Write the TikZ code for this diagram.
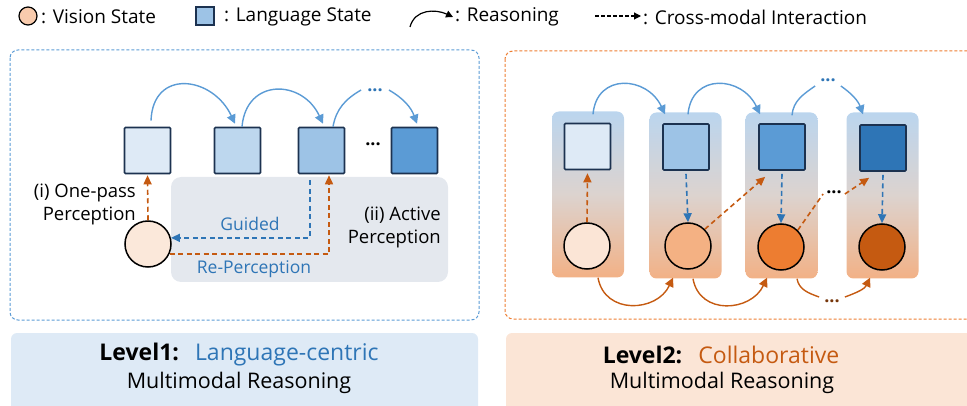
\documentclass[tikz,border=0pt]{standalone}
\usepackage{fontspec}
\setmainfont{Open Sans}
\usetikzlibrary{arrows.meta,calc}
\definecolor{navy}{RGB}{28,50,80}
\definecolor{arcblue}{HTML}{5B9BD5}
\definecolor{dblue}{HTML}{2E75B6}
\definecolor{dorange}{HTML}{C55A11}
\definecolor{panelorange}{HTML}{ED7D31}
\definecolor{grayfill}{HTML}{E4E8EE}
\definecolor{lb1}{HTML}{DEEAF6}
\definecolor{lb2}{HTML}{BDD7EE}
\definecolor{lb3}{HTML}{9DC3E6}
\definecolor{lb4}{HTML}{5B9BD5}
\definecolor{lb5}{HTML}{2E75B6}
\definecolor{lo1}{HTML}{FBE5D6}
\definecolor{lo2}{HTML}{F4B183}
\definecolor{lo3}{HTML}{ED7D31}
\definecolor{lo4}{HTML}{C55A11}
\definecolor{legcirc}{HTML}{F8CBAD}
\definecolor{colbot}{HTML}{F2B186}
\definecolor{coltop}{HTML}{BBD5EE}
\begin{document}
\begin{tikzpicture}[x=1pt,y=1pt,
  lstate/.style={draw=navy,line width=1.6pt,minimum size=46pt,inner sep=0pt,rounded corners=1pt},
  vstate/.style={circle,draw=black,line width=1.5pt,minimum size=46pt,inner sep=0pt},
  reason/.style={arcblue,line width=1.4pt,-{Triangle[length=9pt,width=9pt]}},
  oreason/.style={dorange,line width=1.4pt,-{Triangle[length=9pt,width=9pt]}},
  bdash/.style={dblue,line width=1.6pt,dash pattern=on 5pt off 3.5pt,-{Triangle[length=9pt,width=8pt]}},
  odash/.style={dorange,line width=1.6pt,dash pattern=on 5pt off 3.5pt,-{Triangle[length=9pt,width=8pt]}},
  column/.style={rounded corners=7pt,minimum width=72pt,minimum height=166pt,inner sep=0pt,top color=coltop,bottom color=colbot,middle color=coltop!50!colbot!80!gray!60},
  legtxt/.style={anchor=west,inner sep=0pt,font=\fontsize{19}{22}\selectfont},
  anno/.style={inner sep=0pt,align=right,font=\fontsize{18.5}{23}\selectfont},
  dots/.style={inner sep=1pt,font=\fontsize{18}{20}\selectfont\bfseries},
]
\useasboundingbox (0,0) rectangle (967,-406);

% ---------- legend ----------
\node[circle,draw=black,line width=1.2pt,fill=legcirc,minimum size=18pt,inner sep=0pt] (lc) at (28,-16) {};
\node[legtxt] (lt1) at (41,-17) {: Vision State};
\node[draw=navy,line width=1.2pt,fill=lb3,minimum size=18pt,inner sep=0pt] (ls) at (205,-16) {};
\node[legtxt] (lt2) at (224,-17) {: Language State};
\coordinate (la) at (410,-27);
\coordinate (lb) at (453,-17);
\draw[black,line width=1.2pt,-{Triangle[length=7pt,width=7pt]}] (la) to[out=75,in=155,looseness=1.1] (lb);
\node[legtxt] (lt3) at (455,-17) {: Reasoning};
\coordinate (da) at (595,-16);
\coordinate (db) at (641,-16);
\draw[black,line width=1.1pt,dash pattern=on 3.5pt off 2.5pt,-{Triangle[length=7pt,width=7pt]}] (da) -- (db);
\node[legtxt] (lt4) at (643,-17) {: Cross-modal Interaction};

% ---------- left panel ----------
\draw[arcblue,line width=1pt,dash pattern=on 3pt off 2pt,rounded corners=8pt] (10,-50) rectangle (479,-320);
\fill[grayfill,rounded corners=10pt] (171,-177) rectangle (448,-282);

\node[lstate,fill=lb1] (s1) at (147.5,-150.5) {};
\node[lstate,fill=lb2] (s2) at (237.5,-150.5) {};
\node[lstate,fill=lb3] (s3) at (321.5,-150.5) {};
\node[lstate,fill=lb4] (s4) at (414.5,-150.5) {};
\node[dots,black] (dl) at (373,-144) {...};
\node[vstate,fill=lo1!90!white] (c0) at (148,-244) {};

\draw[reason] ([xshift=3.5,yshift=6]s1.north) to[out=88,in=115,looseness=1.6] ([xshift=-2.5,yshift=3]s2.north);
\draw[reason] ([xshift=4.5]s2.north) to[out=85,in=115,looseness=1.55] ([xshift=1.5,yshift=3]s3.north);
\node[dots,dblue] (dt1) at (375,-90) {...};
\draw[arcblue,line width=1.4pt] ([xshift=11.5]s3.north) to[out=80,in=-150] ([xshift=-5]dt1.west);
\draw[reason] ([xshift=5]dt1.east) to[out=-30,in=110] ([xshift=2.5,yshift=3]s4.north);

\draw[odash] (c0.north) -- ([yshift=-1]s1.south);
\draw[bdash] ([xshift=-11.5,yshift=-6]s3.south) |- (c0.15);
\draw[odash] (c0.-25) -| ([xshift=7.5,yshift=-1]s3.south);

\node[anno,anchor=east] (t1) at (136,-204) {(i) One-pass\\Perception};
\node[anno,anchor=east] (t2) at (441,-227) {(ii) Active\\Perception};
\node[inner sep=0pt,dblue,font=\fontsize{17.5}{20}\selectfont] (tg) at (250,-224) {Guided};
\node[inner sep=0pt,dblue,font=\fontsize{17.5}{20}\selectfont] (tr) at (254,-269) {Re-Perception};

% ---------- right panel ----------
\draw[panelorange,line width=1pt,dash pattern=on 3pt off 2pt,rounded corners=8pt] (505,-51) rectangle (985,-319);

\node[column] (k1) at (588,-194.5) {};
\node[column] (k2) at (685.5,-195.5) {};
\node[column] (k3) at (781.5,-195.5) {};
\node[column] (k4) at (882.5,-195.5) {};

\node[lstate,fill=lb1] (q1) at (587.5,-146.5) {};
\node[lstate,fill=lb3] (q2) at (686,-147) {};
\node[lstate,fill=lb4] (q3) at (782,-147) {};
\node[lstate,fill=lb5] (q4) at (883,-148) {};

\node[vstate,fill=lo1] (v1) at (587,-246) {};
\node[vstate,fill=lo2] (v2) at (688,-246) {};
\node[vstate,fill=lo3] (v3) at (781,-247) {};
\node[vstate,fill=lo4] (v4) at (882,-247) {};

\draw[odash] (v1.north) -- ([yshift=-3]q1.south);
\draw[bdash] ([yshift=-3]q2.south) -- (v2.north);
\draw[bdash] ([yshift=-3]q3.south) -- (v3.north);
\draw[bdash] ([yshift=-3]q4.south) -- (v4.north);

\draw[odash] (v2.45) -- ([xshift=7,yshift=-6]q3.south west);
\node[dots,black] (dm) at (834,-192) {...};
\draw[dorange,line width=1.6pt,dash pattern=on 5pt off 3.5pt] (v3.45) -- ([xshift=-2,yshift=-2]dm.west);
\draw[odash] ([xshift=2,yshift=-2]dm.east) -- ([xshift=10,yshift=-6]q4.south west);

% top reasoning arcs
\draw[reason] ([xshift=5,yshift=-3]k1.north) to[out=85,in=115,looseness=1.5] ([xshift=-20.5,yshift=-2]k2.north);
\draw[reason] ([xshift=2.5,yshift=-2]k2.north) to[out=85,in=115,looseness=1.5] ([xshift=-21.5,yshift=-2]k3.north);
\node[dots,dblue] (dt2) at (828,-80) {...};
\draw[arcblue,line width=1.4pt] ([xshift=10.5,yshift=-3]k3.north) to[out=85,in=-145] ([xshift=-4,yshift=-6]dt2.west);
\draw[reason] ([xshift=4,yshift=-6]dt2.east) to[out=-35,in=110] ([xshift=-19.5,yshift=-2]k4.north);

% bottom reasoning arcs
\draw[oreason] ([xshift=10]k1.south) to[out=-80,in=-115,looseness=1.3] ([xshift=-12.5,yshift=1]k2.south);
\draw[oreason] ([xshift=7.5]k2.south) to[out=-80,in=-115,looseness=1.3] ([xshift=-14.5,yshift=1]k3.south);
\node[dots,dorange!60!black] (db2) at (832,-301) {...};
\draw[dorange,line width=1.4pt] ([xshift=15.5]k3.south) to[out=-80,in=160] ([xshift=-4,yshift=4]db2.west);
\draw[oreason] ([xshift=4,yshift=4]db2.east) to[out=20,in=-115] ([xshift=-12.5,yshift=1]k4.south);

% ---------- bottom labels ----------
\fill[lb1,rounded corners=6pt] (11,-333) rectangle (478,-415);
\fill[lo1,rounded corners=6pt] (506,-333) rectangle (985,-415);
\node[inner sep=0pt,font=\fontsize{23}{26}\selectfont] (b1) at (239,-355) {\textbf{Level1:}\hspace{0.7em}{\color{dblue}Language-centric}};
\node[inner sep=0pt,font=\fontsize{21.5}{24}\selectfont] (b2) at (239,-383) {Multimodal Reasoning};
\node[inner sep=0pt,font=\fontsize{23}{26}\selectfont] (b3) at (721,-355) {\textbf{Level2:}\hspace{0.7em}{\color{dorange}Collaborative}};
\node[inner sep=0pt,font=\fontsize{21.5}{24}\selectfont] (b4) at (722,-383) {Multimodal Reasoning};
\end{tikzpicture}
\end{document}
